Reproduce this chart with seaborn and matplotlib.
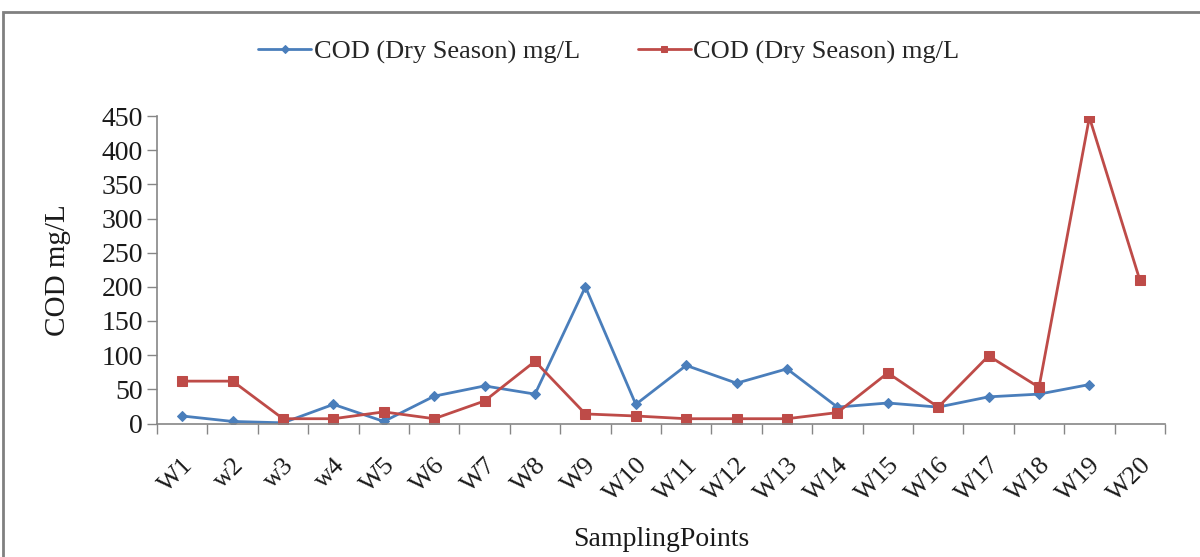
import matplotlib
matplotlib.use("Agg")
import matplotlib.pyplot as plt
import matplotlib.transforms as mtransforms
import seaborn as sns
import numpy as np
import pandas as pd
from matplotlib.patches import Rectangle

categories = ["W1", "w2", "w3", "w4", "W5", "W6", "W7", "W8", "W9", "W10",
              "W11", "W12", "W13", "W14", "W15", "W16", "W17", "W18", "W19", "W20"]
blue_values = [11, 3, 1, 28, 3, 40, 55, 43, 200, 28,
               85, 59, 80, 24, 30, 24, 39, 43, 57]
red_values = [62, 62, 7, 7, 17, 7, 33, 91, 14, 11,
              7, 7, 7, 16, 74, 24, 99, 53, 448, 210]
blue_label = "COD (Dry Season) mg/L"
red_label = "COD (Dry Season) mg/L"
y_ticks = [0, 50, 100, 150, 200, 250, 300, 350, 400, 450]

sns.set_theme(style="white")
plt.rcParams['font.family'] = ['Liberation Serif', 'DejaVu Serif']

fig = plt.figure(figsize=(12, 5.57), dpi=100)
ax = fig.add_axes([157/1200, 1-423.5/557, (1165-157)/1200, (423.5-116)/557])

df_blue = pd.DataFrame({"x": np.arange(len(blue_values)), "y": blue_values})
df_red = pd.DataFrame({"x": np.arange(len(red_values)), "y": red_values})

blue = "#4A7EBB"
red = "#BE4B48"
sns.lineplot(data=df_blue, x="x", y="y", ax=ax, color=blue, linewidth=2.0,
             marker="D", markersize=5.5, markeredgecolor=blue, label=blue_label)
sns.lineplot(data=df_red, x="x", y="y", ax=ax, color=red, linewidth=2.0,
             marker="s", markersize=7, markeredgecolor=red, label=red_label)

ax.set_xlim(-0.5, len(categories) - 0.5)
ax.set_ylim(0, 450)
ax.set_yticks(y_ticks)
ax.set_yticklabels([str(v) for v in y_ticks], fontsize=20, color="#1a1a1a")
ax.set_xticks(np.arange(len(categories)))
ax.set_xticklabels(categories, rotation=45, ha="right", rotation_mode="anchor",
                   fontsize=19, color="#1a1a1a")
offset = mtransforms.ScaledTranslation(-8/100, 0, fig.dpi_scale_trans)
for lbl in ax.get_xticklabels():
    lbl.set_transform(lbl.get_transform() + offset)
ax.set_xticks(np.arange(-0.5, len(categories), 1.0), minor=True)
ax.tick_params(axis="x", which="major", length=0, pad=22)
ax.tick_params(axis="x", which="minor", length=7, width=1, color="#868686", direction="out", bottom=True)
ax.tick_params(axis="y", which="major", length=7, width=1, color="#868686", direction="out", left=True, pad=3)

for s in ["top", "right"]:
    ax.spines[s].set_visible(False)
for s in ["left", "bottom"]:
    ax.spines[s].set_color("#868686")
    ax.spines[s].set_linewidth(1.2)

ax.set_xlabel("SamplingPoints", fontsize=20, color="#1a1a1a", va="center")
ax.xaxis.set_label_coords(0.5, (423.5 - 540) / 307.5)
ax.set_ylabel("COD mg/L", fontsize=21, color="#1a1a1a", va="center")
ax.yaxis.set_label_coords((58 - 157) / 1008, 0.5)

ax.legend(loc="center", bbox_to_anchor=(609/1200, 1-52/557), bbox_transform=fig.transFigure,
          ncol=2, frameon=False, fontsize=19, handlelength=2.0, columnspacing=2.2,
          handletextpad=0.1, markerscale=0.7)

fig.patches.append(Rectangle((3/1200, -0.05), 1.2, 1-12/557 + 0.05, transform=fig.transFigure,
                             fill=False, edgecolor="#808080", linewidth=2.0))

fig.savefig("out.png", dpi=100)
